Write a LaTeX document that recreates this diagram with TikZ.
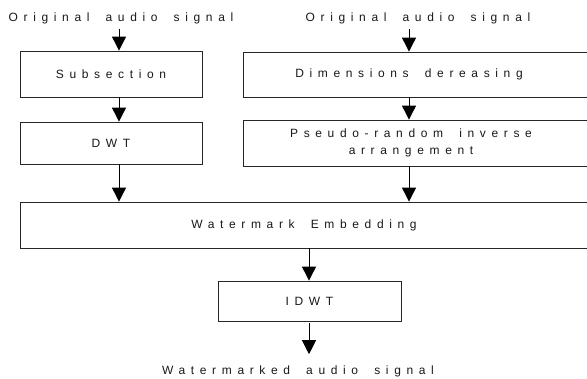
\documentclass[tikz,border=0pt]{standalone}
\usepackage{fontspec}
\setmainfont{Liberation Sans}
\newfontfamily\spacedfont[LetterSpace=47, WordSpace=1.8]{Liberation Sans}
\usetikzlibrary{arrows.meta}
\tikzset{
  box/.style={draw=black!85, line width=0.8pt, rectangle, inner sep=0pt},
  txt/.style={font=\spacedfont\fontsize{12}{17}\selectfont, text=black!90, inner sep=2pt},
  arr/.style={draw=black, line width=0.9pt, -{Triangle[width=14pt,length=14pt]}},
}
\begin{document}
\begin{tikzpicture}[x=1pt,y=1pt]
\useasboundingbox (0,0) rectangle (587,-378);
\fill[white] (0,0) rectangle (587,-378);
% x positions of the connectors
\coordinate (xL) at (119,0);
\coordinate (xR) at (409,0);
\coordinate (xM) at (309,0);
% inputs
\node[txt] (inL) at (121,-18) {Original audio signal};
\node[txt] (inR) at (418,-18) {Original audio signal};
% left column
\node[box, txt, minimum width=182, minimum height=46] (sub) at (111,-74) {Subsection};
\node[box, txt, minimum width=182, minimum height=42] (dwt) at (111,-143) {DWT};
% right column
\node[box, minimum width=358, minimum height=45,
      label={[txt, xshift=-13]center:Dimensions dereasing}] (dim) at (422,-74.5) {};
\node[box, minimum width=358, minimum height=46,
      label={[txt, align=center, xshift=-11]center:{Pseudo-random inverse\\arrangement}}] (ps) at (422,-143) {};
% embedding
\node[box, minimum width=580, minimum height=46,
      label={[txt, xshift=-6]center:Watermark Embedding}] (wm) at (310,-225) {};
\node[box, txt, minimum width=183, minimum height=40] (idwt) at (309.5,-301) {IDWT};
\node[txt] (out) at (298,-371) {Watermarked audio signal};
% connectors
\draw[arr, shorten <=3pt] (inL.south -| xL) -- (sub.north -| xL);
\draw[arr] (sub.south -| xL) -- (dwt.north -| xL);
\draw[arr] (dwt.south -| xL) -- (wm.north -| xL);
\draw[arr, shorten <=3pt] (inR.south -| xR) -- (dim.north -| xR);
\draw[arr] (dim.south -| xR) -- (ps.north -| xR);
\draw[arr] (ps.south -| xR) -- (wm.north -| xR);
\draw[arr] (wm.south -| xM) -- (idwt.north -| xM);
\draw[arr, shorten <=2pt, shorten >=9pt] (idwt.south -| xM) -- (out.north -| xM);
\end{tikzpicture}
\end{document}
